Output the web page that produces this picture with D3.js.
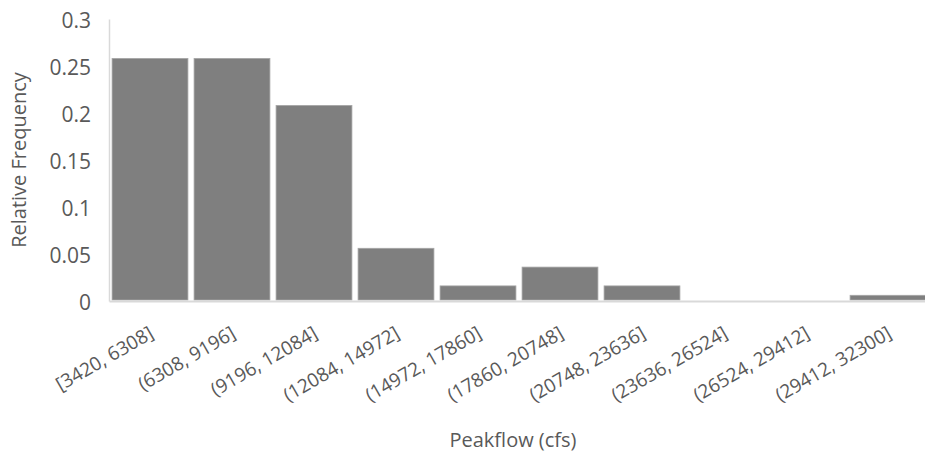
<!DOCTYPE html>
<html>
<head>
<meta charset="utf-8">
<script src="https://cdn.jsdelivr.net/npm/d3@7"></script>
<style>
  html, body { margin: 0; padding: 0; background: #fff; }
  svg { display: block; font-family: "Open Sans", Lato, sans-serif; }
</style>
</head>
<body>
<svg id="chart" width="925" height="455"></svg>
<script>
// Histogram bins of annual peak flow and their relative frequencies
const bins = ["[3420, 6308]", "(6308, 9196]", "(9196, 12084]", "(12084, 14972]", "(14972, 17860]",
              "(17860, 20748]", "(20748, 23636]", "(23636, 26524]", "(26524, 29412]", "(29412, 32300]"];
const freq = [0.257, 0.257, 0.207, 0.055, 0.015, 0.035, 0.015, 0, 0, 0.005];
const yTicks = [0, 0.05, 0.1, 0.15, 0.2, 0.25, 0.3];
const yTickLabels = ["0", "0.05", "0.1", "0.15", "0.2", "0.25", "0.3"];

const svg = d3.select("#chart");
const plot = { left: 109, right: 929, top: 19, bottom: 301 };
const textColor = "#595959";
const fontFamily = "'Open Sans', Lato, sans-serif";

const x = d3.scaleBand()
  .domain(bins)
  .range([plot.left, plot.right])
  .paddingInner(0.075)
  .paddingOuter(0.0375);

const y = d3.scaleLinear()
  .domain([0, 0.3])
  .range([plot.bottom, plot.top]);

// bars
svg.append("g")
  .selectAll("rect")
  .data(bins.map((b, i) => ({ bin: b, v: freq[i] })))
  .join("rect")
  .attr("x", d => x(d.bin))
  .attr("width", x.bandwidth())
  .attr("y", d => y(d.v) - 1)
  .attr("height", d => Math.max(0, plot.bottom - 1 - (y(d.v) - 1)))
  .attr("fill", "#7f7f7f")
  .attr("stroke", "#a6a6a6")
  .attr("stroke-width", 0.8);

// y axis (labels only, with light axis line)
const yAxis = d3.axisLeft(y)
  .tickValues(yTicks)
  .tickFormat((d, i) => yTickLabels[i])
  .tickSize(0)
  .tickPadding(18);

const yg = svg.append("g")
  .attr("transform", `translate(${plot.left},0)`)
  .call(yAxis)
  .attr("font-family", fontFamily);
yg.select(".domain").attr("stroke", "#d9d9d9").attr("stroke-width", 1.5);
yg.selectAll("text")
  .attr("fill", textColor)
  .attr("font-size", 21)
  .attr("dy", "0.42em");

// x axis
const xAxis = d3.axisBottom(x).tickSize(0).tickPadding(0);
const xg = svg.append("g")
  .attr("transform", `translate(0,${plot.bottom})`)
  .call(xAxis)
  .attr("font-family", fontFamily);
xg.select(".domain").attr("stroke", "#d9d9d9").attr("stroke-width", 2);
xg.selectAll(".tick text")
  .attr("fill", textColor)
  .attr("font-size", 19)
  .attr("text-anchor", "end")
  .attr("dy", 0)
  .attr("transform", "translate(5,36) rotate(-30)");

// axis titles
svg.append("text")
  .attr("x", 513)
  .attr("y", 447)
  .attr("text-anchor", "middle")
  .attr("fill", textColor)
  .attr("font-size", 20)
  .text("Peakflow (cfs)");

svg.append("text")
  .attr("transform", "translate(26,160) rotate(-90)")
  .attr("text-anchor", "middle")
  .attr("fill", textColor)
  .attr("font-size", 20)
  .text("Relative Frequency");
</script>
</body>
</html>
